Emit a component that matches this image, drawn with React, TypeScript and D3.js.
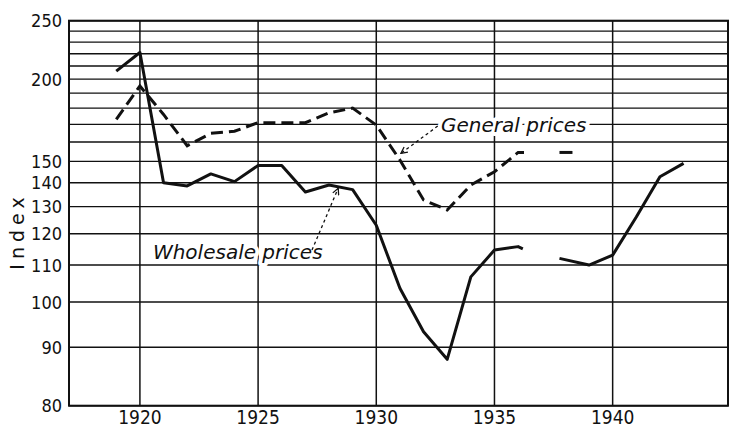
import React from 'react';
import * as d3 from 'd3';

// wholesale prices, two pieces (gap 1937)
const wholesaleYears1 = [1919, 1920, 1921, 1922, 1923, 1924, 1925, 1926, 1927, 1928, 1929, 1930, 1931, 1932, 1933, 1934, 1935, 1936, 1936.2];
const wholesaleVals1 = [206, 221, 140, 138.6, 144, 140.5, 148, 148, 136, 139, 137, 123, 103.5, 93.2, 87.7, 106.6, 114.6, 115.7, 115];
const wholesaleYears2 = [1937.75, 1939, 1940, 1941, 1942, 1943];
const wholesaleVals2 = [112, 110, 113, 126, 142.7, 149];

// general prices
const generalYears1 = [1919, 1920, 1921, 1922, 1923, 1924, 1925, 1926, 1927, 1928, 1929, 1930, 1931, 1932, 1933, 1934, 1935, 1936, 1936.25];
const generalVals1 = [173, 195, 176, 158, 164.8, 166, 171, 171, 171, 177, 180, 169.6, 150.7, 132.7, 128.7, 139, 145, 154.5, 154.5];
const generalYears2 = [1937.75, 1938.3];
const generalVals2 = [154.5, 154.5];

const gridValues = d3.range(80, 251, 10);
const yTickLabels = [80, 90, 100, 110, 120, 130, 140, 150, 200, 250];
const xTickYears = [1920, 1925, 1930, 1935, 1940];

const W = 729;
const H = 429;
const left = 69;
const right = 728;
const top = 20.7;
const bottom = 405.7;

const x = d3.scaleLinear().domain([1917, 1944.88]).range([left, right]);
// ratio scale offset by 50 (matches the ruling of the original sheet)
const yLog = d3.scaleLog().domain([30, 200]).range([bottom, top]);
const y = (v: number) => yLog(v - 50);

const line = d3.line<[number, number]>()
  .x(d => x(d[0]))
  .y(d => y(d[1]));

const zip = (a: number[], b: number[]) => a.map((v, i) => [v, b[i]] as [number, number]);

const ink = '#111';
const numFont = '"Liberation Sans Narrow", "DejaVu Sans Condensed", "Arial Narrow", sans-serif';
const labelFont = '"DejaVu Sans", "Noto Sans", sans-serif';

export default function App() {
  return (
    <svg width={W} height={H} style={{ position: 'absolute', left: 0, top: 0, background: '#fff' }}>
      <defs>
        <marker id="arr" viewBox="0 0 10 10" refX="9" refY="5" markerWidth="8" markerHeight="8" orient="auto" markerUnits="userSpaceOnUse">
          <path d="M1,1 L9,5 L1,9" fill="none" stroke={ink} strokeWidth={1.6} />
        </marker>
      </defs>

      {/* horizontal rulings */}
      {gridValues.map(v => (
        <line key={'h' + v} x1={left} x2={right} y1={y(v)} y2={y(v)} stroke={ink} strokeWidth={1.4} />
      ))}
      {/* vertical rulings */}
      {xTickYears.map(t => (
        <line key={'v' + t} x1={x(t)} x2={x(t)} y1={top} y2={bottom} stroke={ink} strokeWidth={1.5} />
      ))}
      {/* frame */}
      <rect x={left} y={top} width={right - left} height={bottom - top} fill="none" stroke={ink} strokeWidth={2} />

      {/* y labels */}
      {yTickLabels.map(v => (
        <text key={'yl' + v} x={62} y={y(v)} dy="0.36em" textAnchor="end" fontFamily={numFont} fontSize={18} fill={ink}>
          {v}
        </text>
      ))}
      {/* x labels */}
      {xTickYears.map(t => (
        <text key={'xl' + t} x={x(t)} y={424} textAnchor="middle" fontFamily={numFont} fontSize={19} fill={ink}>
          {t}
        </text>
      ))}
      <text transform="translate(24,231) rotate(-90)" textAnchor="middle" fontFamily={labelFont} fontSize={19} letterSpacing={5} fill={ink}>
        Index
      </text>

      {/* series */}
      <path d={line(zip(wholesaleYears1, wholesaleVals1)) || ''} fill="none" stroke={ink} strokeWidth={3} strokeLinejoin="round" />
      <path d={line(zip(wholesaleYears2, wholesaleVals2)) || ''} fill="none" stroke={ink} strokeWidth={3} strokeLinejoin="round" />
      <path d={line(zip(generalYears1, generalVals1)) || ''} fill="none" stroke={ink} strokeWidth={3} strokeDasharray="12,6" />
      <path d={line(zip(generalYears2, generalVals2)) || ''} fill="none" stroke={ink} strokeWidth={3} />

      {/* labels with leaders */}
      <text x={x(1932.74)} y={y(165.7)} fontFamily={labelFont} fontStyle="italic" fontSize={20} fill={ink}
        stroke="#fff" strokeWidth={8} strokeLinejoin="round" paintOrder="stroke">
        General prices
      </text>
      <line x1={x(1932.6)} y1={y(169)} x2={x(1931.04)} y2={y(154)} stroke={ink} strokeWidth={1.3} strokeDasharray="3,3" markerEnd="url(#arr)" />

      <text x={x(1920.55)} y={y(111.7)} fontFamily={labelFont} fontStyle="italic" fontSize={20} fill={ink}
        stroke="#fff" strokeWidth={8} strokeLinejoin="round" paintOrder="stroke">
        Wholesale prices
      </text>
      <line x1={x(1927.28)} y1={y(114.6)} x2={x(1928.39)} y2={y(137.6)} stroke={ink} strokeWidth={1.3} strokeDasharray="3,3" markerEnd="url(#arr)" />
    </svg>
  );
}
